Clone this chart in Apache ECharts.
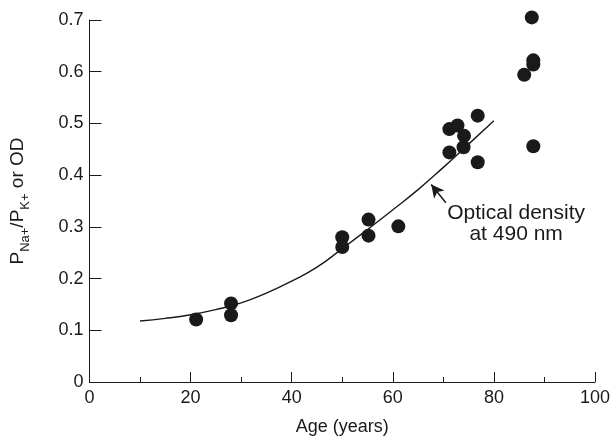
<!DOCTYPE html>
<html>
<head>
<meta charset="utf-8">
<script src="https://cdn.jsdelivr.net/npm/echarts@6/dist/echarts.min.js"></script>
<style>
html,body{margin:0;padding:0;background:#fff;}
#c{width:613px;height:441px;}
</style>
</head>
<body>
<div id="c"></div>
<script>
// Measured points
var ages = [21.1, 28.0, 28.0, 50.0, 50.0, 55.2, 55.2, 61.1, 71.2, 72.8, 74.1, 74.0, 71.2, 76.8, 76.8, 86.0, 87.8, 87.8, 87.5, 87.8];
var ratios = [0.121, 0.152, 0.129, 0.280, 0.261, 0.314, 0.283, 0.301, 0.489, 0.496, 0.476, 0.454, 0.444, 0.515, 0.425, 0.594, 0.622, 0.614, 0.705, 0.456];
// Optical density curve
var curveAges = [10, 15, 20, 25, 30, 35, 40, 45, 50, 55, 60, 65, 70, 75, 80];
var curveOD = [0.118, 0.123, 0.130, 0.140, 0.153, 0.172, 0.195, 0.222, 0.258, 0.295, 0.333, 0.372, 0.415, 0.460, 0.505];
// Axis ticks
var xTicks = [0, 20, 40, 60, 80, 100];
var yTicks = [0, 0.1, 0.2, 0.3, 0.4, 0.5, 0.6, 0.7];
// Annotation
var annotText = 'Optical density\nat 490 nm';
var annotPos = [84.4, 0.3056];
var arrowFrom = [70.5, 0.3465];
var arrowTo = [67.6, 0.382];

var FONT = '"Liberation Sans", Arial, Helvetica, sans-serif';
var INK = '#1a1a1a';

var chart = echarts.init(document.getElementById('c'), null, {renderer: 'canvas'});
chart.setOption({
  animation: false,
  backgroundColor: '#ffffff',
  grid: {left: 88, right: 14, top: 20, bottom: 58, containLabel: false},
  xAxis: {
    type: 'value', min: xTicks[0], max: xTicks[xTicks.length - 1], interval: 20,
    name: 'Age (years)', nameLocation: 'middle', nameGap: 36,
    nameTextStyle: {fontFamily: FONT, fontSize: 18, color: INK},
    axisLine: {show: true, lineStyle: {color: INK, width: 1}},
    axisTick: {show: true, inside: true, length: 10, lineStyle: {color: INK, width: 1}},
    minorTick: {show: true, splitNumber: 2, length: 5, lineStyle: {color: INK, width: 1}},
    axisLabel: {fontFamily: FONT, fontSize: 18, color: INK, margin: 7},
    splitLine: {show: false}
  },
  yAxis: {
    type: 'value', min: yTicks[0], max: yTicks[yTicks.length - 1], interval: 0.1,
    name: '{m|P}{s|Na}{p|+}{m|/P}{s|K}{p|+}{m| or OD}',
    nameLocation: 'middle', nameRotate: 90, nameGap: 58,
    nameTextStyle: {
      fontFamily: FONT, fontSize: 18, color: INK,
      rich: {
        m: {fontFamily: FONT, fontSize: 19, color: INK, lineHeight: 28, verticalAlign: 'middle'},
        s: {fontFamily: FONT, fontSize: 13, color: INK, lineHeight: 14, verticalAlign: 'bottom'},
        p: {fontFamily: FONT, fontSize: 13, color: INK, lineHeight: 22, verticalAlign: 'bottom'}
      }
    },
    axisLine: {show: true, lineStyle: {color: INK, width: 1}},
    axisTick: {show: true, inside: true, length: 12, lineStyle: {color: INK, width: 1}},
    axisLabel: {fontFamily: FONT, fontSize: 18, color: INK, margin: 6,
      formatter: function (v) { return v === 0 ? '0' : v.toFixed(1); }},
    splitLine: {show: false}
  },
  series: [
    {
      type: 'line', name: 'Optical density', smooth: true, showSymbol: false, symbol: 'none',
      data: curveAges.map(function (a, i) { return [a, curveOD[i]]; }),
      lineStyle: {color: INK, width: 1.4},
      z: 2,
      markLine: {
        silent: true, symbol: ['none', 'arrow'], symbolSize: [10, 13],
        lineStyle: {color: INK, width: 1.5, type: 'solid'},
        label: {show: false},
        data: [[{coord: arrowFrom}, {coord: arrowTo}]]
      }
    },
    {
      type: 'scatter', name: 'PNa/PK', symbol: 'circle', symbolSize: 14, clip: false,
      itemStyle: {color: INK, opacity: 1},
      data: ages.map(function (a, i) { return [a, ratios[i]]; }),
      z: 3
    },
    {
      type: 'scatter', name: 'annotation', symbolSize: 0, silent: true,
      data: [annotPos],
      itemStyle: {opacity: 1},
      label: {show: true, position: 'inside', formatter: annotText, opacity: 1,
        fontFamily: FONT, fontSize: 21, lineHeight: 21, color: INK, align: 'center', verticalAlign: 'middle'}
    }
  ]
});
</script>
</body>
</html>
